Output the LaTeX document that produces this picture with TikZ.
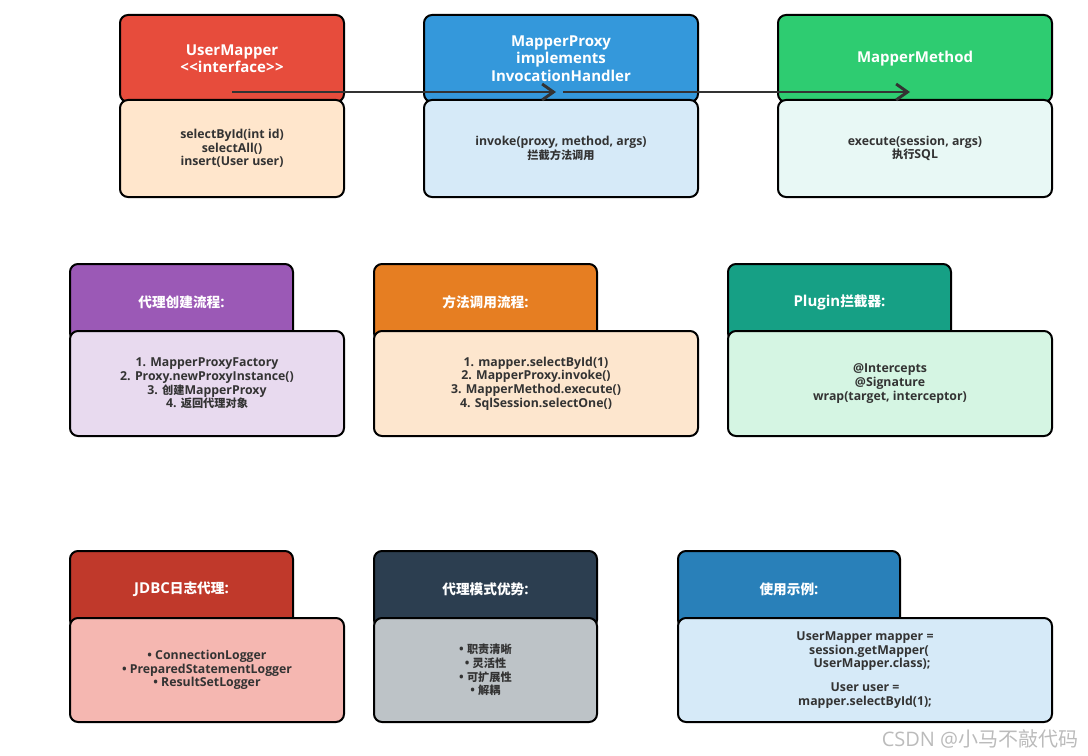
\documentclass[tikz,border=0pt]{standalone}
\usepackage{fontspec}
\setmainfont{Open Sans}
\newfontfamily\cjk{Noto Sans CJK SC}[Scale=0.91]
\usepackage{xcolor}
\usetikzlibrary{arrows.meta, calc}

\newlength{\px}\setlength{\px}{0.75pt}

\definecolor{umRed}{HTML}{E74C3C}
\definecolor{umPeach}{HTML}{FFE6CC}
\definecolor{proxyBlue}{HTML}{3498DB}
\definecolor{proxyLight}{HTML}{D6EAF8}
\definecolor{methodGreen}{HTML}{2ECC71}
\definecolor{methodLight}{HTML}{E8F8F5}
\definecolor{createPurple}{HTML}{9B59B6}
\definecolor{createLight}{HTML}{E8DAEF}
\definecolor{callOrange}{HTML}{E67E22}
\definecolor{callLight}{HTML}{FDE6CE}
\definecolor{pluginTeal}{HTML}{16A085}
\definecolor{pluginLight}{HTML}{D5F5E3}
\definecolor{jdbcRed}{HTML}{C0392B}
\definecolor{jdbcLight}{HTML}{F5B7B1}
\definecolor{proNavy}{HTML}{2C3E50}
\definecolor{proGray}{HTML}{BDC3C7}
\definecolor{useBlue}{HTML}{2980B9}
\definecolor{useLight}{HTML}{D6EAF8}
\definecolor{txtGray}{HTML}{333333}
\definecolor{wmGray}{HTML}{BBBBBB}

\begin{document}
\begin{tikzpicture}[
    x=0.75pt, y=-0.75pt,
    head/.style={draw=black, line width=2\px, rounded corners=8\px, anchor=north west, inner sep=0pt,
        minimum height=77\px, text=white, align=center, font=\bfseries\fontsize{15\px}{17.5\px}\selectfont},
    body/.style={draw=black, line width=2\px, rounded corners=8\px, anchor=north west, inner sep=0pt,
        minimum height=105\px, text=txtGray, align=center, font=\bfseries\fontsize{12.3\px}{13.6\px}\selectfont},
    arr/.style={-{Straight Barb[length=8.5pt, width=12pt]}, line width=2.2pt, draw=txtGray},
]
\useasboundingbox (0,0) rectangle (1088,756);

% top row: proxy call chain
\node[head, fill=umRed, minimum width=224\px, minimum height=87\px] (userMapperH) at (119,14) {UserMapper\\<\kern0.5\px<interface>\kern0.5\px>};
\node[body, fill=umPeach, minimum width=224\px, minimum height=97\px] (userMapperB) at (119,99) {selectById(int id)\\selectAll()\\insert(User user)};
\node[head, fill=proxyBlue, minimum width=274\px, minimum height=87\px] (proxyH) at (423,14) {MapperProxy\\implements\\InvocationHandler};
\node[body, fill=proxyLight, minimum width=274\px, minimum height=97\px] (proxyB) at (423,99) {invoke(proxy, method, args)\\{\cjk 拦截方法调用}};
\node[head, fill=methodGreen, minimum width=274\px, minimum height=87\px] (methodH) at (777,14) {MapperMethod};
\node[body, fill=methodLight, minimum width=274\px, minimum height=97\px] (methodB) at (777,99) {execute(session, args)\\{\cjk 执行}SQL};

% middle row
\node[head, fill=createPurple, minimum width=223\px] (createH) at (69,263) {{\cjk 代理创建流程}:};
\node[body, fill=createLight, minimum width=274\px] (createB) at (69,330) {1. MapperProxyFactory\\2. Proxy.newProxyInstance()\\3. {\cjk 创建}MapperProxy\\4. {\cjk 返回代理对象}};
\node[head, fill=callOrange, minimum width=223\px] (callH) at (373,263) {{\cjk 方法调用流程}:};
\node[body, fill=callLight, minimum width=324\px] (callB) at (373,330) {1. mapper.selectById(1)\\2. MapperProxy.invoke()\\3. MapperMethod.execute()\\4. SqlSession.selectOne()};
\node[head, fill=pluginTeal, minimum width=223\px] (pluginH) at (727,263) {Plugin{\cjk 拦截器}:};
\node[body, fill=pluginLight, minimum width=324\px] (pluginB) at (727,330) {@Intercepts\\@Signature\\wrap(target, interceptor)};

% bottom row
\node[head, fill=jdbcRed, minimum width=223\px] (jdbcH) at (69,550) {JDBC{\cjk 日志代理}:};
\node[body, fill=jdbcLight, minimum width=274\px, minimum height=104\px] (jdbcB) at (69,617) {• ConnectionLogger\\• PreparedStatementLogger\\• ResultSetLogger};
\node[head, fill=proNavy, minimum width=223\px] (prosH) at (373,550) {{\cjk 代理模式优势}:};
\node[body, fill=proGray, minimum width=223\px, minimum height=104\px] (prosB) at (373,617) {• {\cjk 职责清晰}\\• {\cjk 灵活性}\\• {\cjk 可扩展性}\\• {\cjk 解耦}};
\node[head, fill=useBlue, minimum width=222\px] (usageH) at (677,550) {{\cjk 使用示例}:};
\node[body, fill=useLight, minimum width=374\px, minimum height=104\px] (usageB) at (677,617) {UserMapper mapper =\\\hspace*{8\px}session.getMapper(\\\hspace*{14\px}UserMapper.class);\\[10\px]User user =\\mapper.selectById(1);};

\draw[arr] ($(userMapperH.south)+(0,-11)$) -- ($(proxyH.south)+(-5,-11)$);
\draw[arr] ($(proxyH.south)+(2,-11)$) -- ($(methodH.south)+(-5,-11)$);

\node[anchor=east, text=wmGray, font=\fontsize{20\px}{20\px}\selectfont] (watermark) at (1083,739) {CSDN @{\cjk\fontsize{22\px}{22\px}\selectfont 小马不敲代码}};
\end{tikzpicture}
\end{document}
